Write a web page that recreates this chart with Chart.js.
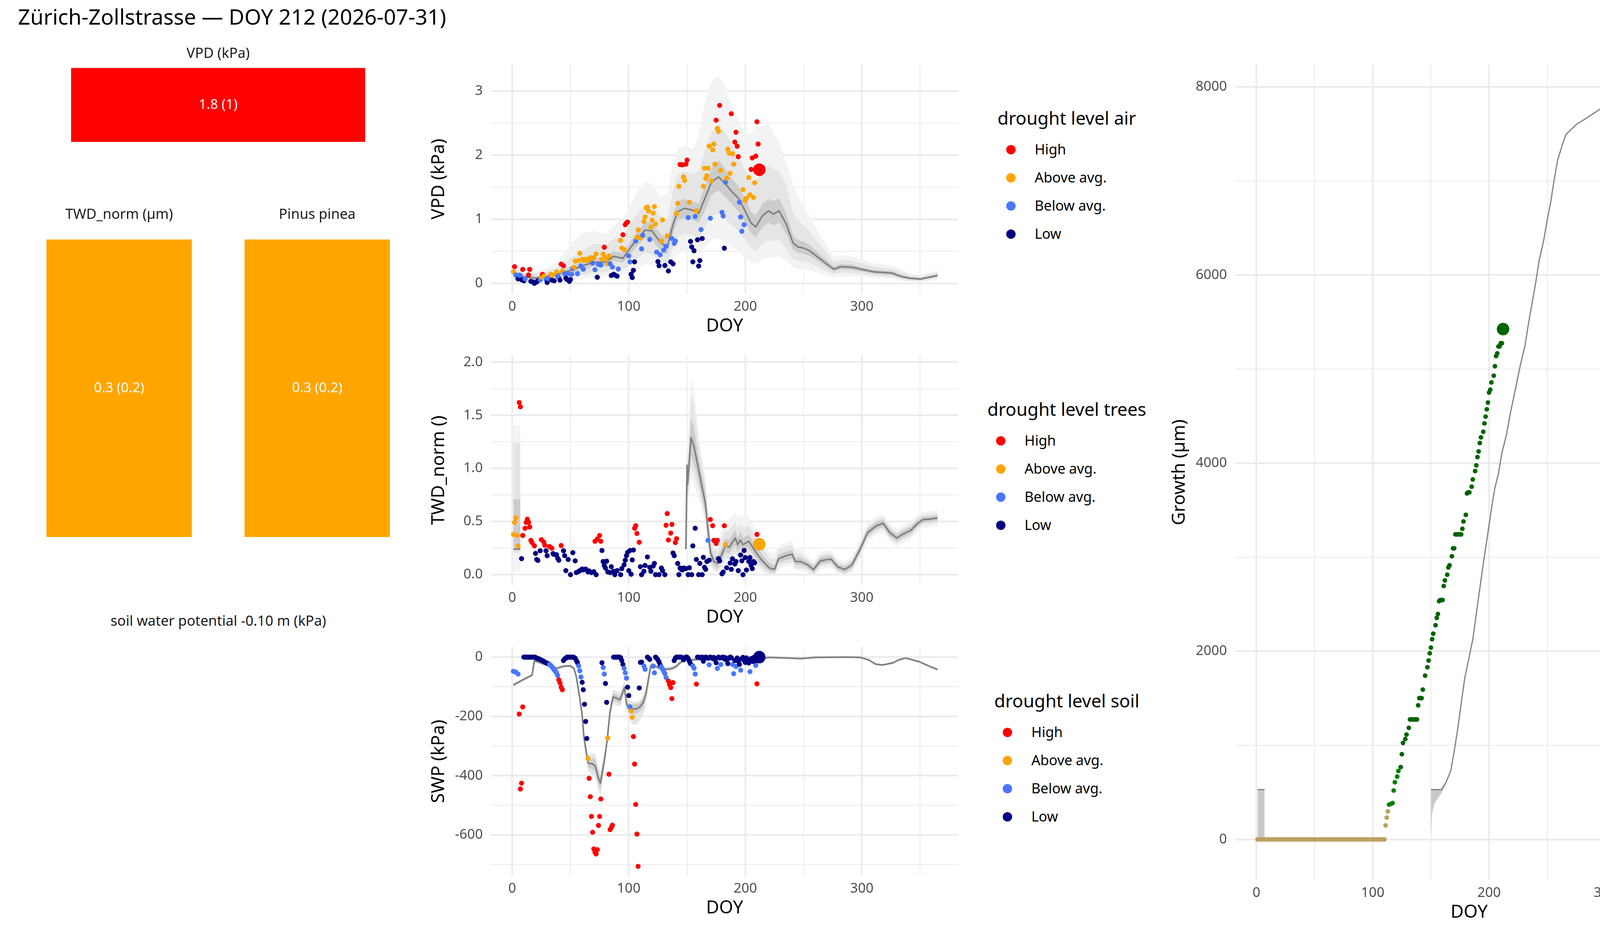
<!DOCTYPE html>
<html>
<head>
<meta charset="utf-8">
<title>Zürich-Zollstrasse</title>
<script src="https://cdn.jsdelivr.net/npm/chart.js@4.4.1/dist/chart.umd.min.js"></script>
<style>
  html, body { margin: 0; padding: 0; background: #fff; }
  body { position: relative; width: 4800px; height: 2400px; overflow: hidden; font-family: "Noto Sans", sans-serif; }
  canvas { position: absolute; }
  .txt { position: absolute; white-space: nowrap; line-height: 1; }
  .dot { position: absolute; border-radius: 50%; }
</style>
</head>
<body>
<script>
// ---------- tick labels ----------
const doyTicks = [0, 50, 100, 150, 200, 250, 300, 350];
const vpdTicks = [0, 0.5, 1, 1.5, 2, 2.5, 3];
const twdTicks = [0, 0.25, 0.5, 0.75, 1, 1.25, 1.5, 1.75, 2];
const swpTicks = [-700, -600, -500, -400, -300, -200, -100, 0];
const growthTicks = [0, 1000, 2000, 3000, 4000, 5000, 6000, 7000, 8000];

// ---------- categories ----------
const droughtLevels = ['High', 'Above avg.', 'Below avg.', 'Low'];
const droughtColors = { H: '#FF0000', A: '#FFA500', B: '#4876FF', L: '#000080' };
const growthLevels = ['High', 'Above avg.', 'Below avg.', 'Low', 'Dormant'];
const growthColors = { H: '#006400', A: '#008000', B: '#00FF00', L: '#FFFF00', D: '#BEA05F' };

// ---------- today tiles ----------
const tileNames = ['VPD (kPa)', 'TWD_norm (µm)', 'Pinus pinea'];
const tileValue = [1.8, 0.3, 0.3];
const tileRef = [1, 0.2, 0.2];
const tileLevel = ['H', 'A', 'A'];
const soilTileName = 'soil water potential -0.10 m (kPa)';

// ---------- VPD climatology ----------
const vpdStatDoy = [1,10,20,30,40,50,60,70,80,87,95,102,108,114,120,127,133,138,142,148,155,160,165,171,177,183,189,194,199,205,209,215,220,224,229,235,241,245,250,255,263,270,276,282,292,302,310,318,326,333,341,350,358,365];
const vpdMean  = [0.15,0.10,0.08,0.11,0.15,0.20,0.27,0.33,0.33,0.42,0.39,0.57,0.71,0.83,0.82,0.64,0.56,0.92,1.12,1.17,1.14,1.09,1.31,1.58,1.66,1.55,1.42,1.33,1.16,0.94,0.88,1.06,1.13,1.08,1.13,0.93,0.63,0.57,0.55,0.51,0.40,0.30,0.22,0.26,0.25,0.21,0.18,0.17,0.16,0.11,0.08,0.066,0.096,0.123];
const vpdInLo  = [0.11,0.07,0.06,0.08,0.11,0.15,0.20,0.27,0.26,0.35,0.32,0.47,0.60,0.70,0.68,0.52,0.45,0.78,0.98,1.02,0.99,0.94,1.12,1.38,1.45,1.35,1.22,1.13,0.98,0.78,0.72,0.88,0.95,0.90,0.95,0.78,0.53,0.48,0.46,0.43,0.34,0.25,0.19,0.22,0.21,0.18,0.15,0.14,0.13,0.09,0.06,0.05,0.08,0.10];
const vpdInHi  = [0.19,0.13,0.11,0.14,0.19,0.26,0.33,0.40,0.41,0.50,0.48,0.67,0.82,0.95,0.95,0.78,0.70,1.06,1.28,1.32,1.28,1.24,1.50,1.80,1.92,1.78,1.62,1.52,1.35,1.12,1.06,1.25,1.32,1.28,1.33,1.10,0.75,0.68,0.65,0.60,0.47,0.36,0.26,0.30,0.29,0.24,0.21,0.20,0.19,0.14,0.10,0.085,0.115,0.145];
const vpdMidLo = [0.06,0.04,0.03,0.05,0.07,0.10,0.13,0.17,0.17,0.23,0.22,0.30,0.40,0.48,0.45,0.35,0.30,0.55,0.72,0.78,0.75,0.70,0.85,1.05,1.10,1.00,0.90,0.82,0.70,0.55,0.50,0.62,0.68,0.65,0.68,0.55,0.38,0.35,0.34,0.32,0.25,0.19,0.14,0.17,0.16,0.14,0.12,0.11,0.10,0.07,0.04,0.035,0.06,0.08];
const vpdMidHi = [0.24,0.17,0.15,0.19,0.26,0.40,0.50,0.62,0.60,0.70,0.72,0.95,1.10,1.22,1.20,1.05,0.98,1.45,1.70,1.75,1.70,1.75,2.05,2.35,2.48,2.35,2.15,2.00,1.80,1.60,1.58,1.78,1.85,1.78,1.75,1.55,1.10,0.98,0.90,0.82,0.62,0.48,0.33,0.37,0.35,0.30,0.26,0.24,0.23,0.18,0.13,0.11,0.14,0.17];
const vpdOutLo = [0.03,0.02,0.01,0.02,0.04,0.06,0.08,0.10,0.10,0.13,0.13,0.18,0.25,0.30,0.28,0.22,0.18,0.35,0.45,0.50,0.48,0.45,0.55,0.68,0.70,0.62,0.55,0.50,0.42,0.33,0.30,0.38,0.40,0.40,0.42,0.35,0.25,0.22,0.22,0.20,0.16,0.12,0.09,0.11,0.11,0.10,0.08,0.08,0.07,0.05,0.03,0.02,0.04,0.06];
const vpdOutHi = [0.28,0.20,0.18,0.24,0.35,0.62,0.78,0.82,0.78,0.90,1.00,1.25,1.45,1.58,1.55,1.35,1.40,1.85,2.10,2.15,2.10,2.30,2.80,3.15,3.25,3.05,2.75,2.55,2.35,2.35,2.45,2.45,2.50,2.35,2.20,1.90,1.55,1.35,1.20,1.05,0.78,0.60,0.42,0.44,0.42,0.36,0.31,0.30,0.28,0.22,0.16,0.14,0.17,0.20];

// VPD this year: [doy, value, level]
const vpdObs = [[1,0.18,'A'],[2,0.26,'H'],[3,0.13,'B'],[5,0.07,'L'],[6,0.128,'B'],[7,0.12,'B'],[8,0.055,'L'],[9,0.217,'H'],[10,0.04,'L'],[11,0.07,'B'],[14,0.13,'H'],[15,0.217,'H'],[16,0.03,'L'],[18,0.02,'L'],[19,0.0,'L'],[21,0.02,'L'],[22,0.04,'L'],[24,0.055,'B'],[25,0.10,'A'],[26,0.14,'H'],[27,0.11,'A'],[29,0.06,'B'],[30,0.014,'L'],[31,0.075,'B'],[33,0.14,'A'],[34,0.05,'L'],[35,0.13,'A'],[36,0.04,'L'],[38,0.177,'A'],[39,0.11,'B'],[40,0.09,'B'],[41,0.05,'L'],[42,0.30,'H'],[43,0.19,'A'],[44,0.274,'H'],[45,0.15,'B'],[46,0.08,'L'],[47,0.06,'L'],[48,0.15,'B'],[49,0.03,'L'],[50,0.06,'L'],[51,0.14,'B'],[52,0.23,'B'],[53,0.25,'A'],[54,0.345,'A'],[56,0.15,'B'],[57,0.355,'A'],[58,0.47,'A'],[59,0.27,'B'],[60,0.375,'A'],[61,0.22,'B'],[62,0.36,'A'],[63,0.375,'A'],[65,0.355,'A'],[66,0.38,'A'],[67,0.40,'A'],[68,0.36,'A'],[69,0.315,'B'],[70,0.40,'A'],[71,0.213,'B'],[72,0.457,'A'],[73,0.095,'L'],[74,0.295,'B'],[75,0.30,'B'],[76,0.284,'B'],[77,0.375,'A'],[78,0.457,'A'],[79,0.563,'H'],[80,0.40,'A'],[81,0.386,'A'],[82,0.305,'A'],[83,0.427,'A'],[84,0.305,'B'],[85,0.122,'L'],[86,0.254,'B'],[87,0.142,'L'],[88,0.13,'L'],[90,0.112,'L'],[91,0.223,'B'],[93,0.67,'A'],[94,0.55,'A'],[95,0.758,'H'],[96,0.528,'A'],[97,0.914,'H'],[98,0.94,'H'],[99,0.955,'H'],[100,0.427,'B'],[101,0.335,'B'],[102,0.142,'L'],[103,0.09,'L'],[104,0.203,'L'],[105,0.335,'L'],[106,0.66,'B'],[107,0.72,'A'],[108,0.833,'A'],[109,0.72,'A'],[110,0.71,'A'],[111,0.538,'B'],[112,0.75,'B'],[113,0.965,'A'],[114,1.035,'A'],[115,1.18,'A'],[116,1.19,'A'],[117,1.127,'A'],[118,0.684,'B'],[119,0.879,'A'],[120,0.985,'A'],[121,1.096,'A'],[122,1.198,'A'],[123,0.924,'A'],[124,0.487,'B'],[125,0.339,'L'],[126,0.274,'L'],[127,0.446,'B'],[128,0.66,'A'],[129,0.989,'A'],[130,0.518,'B'],[131,0.278,'L'],[132,0.578,'B'],[133,0.741,'A'],[134,0.193,'L'],[136,0.335,'L'],[137,0.70,'B'],[138,0.304,'L'],[139,0.623,'B'],[140,0.66,'B'],[141,1.09,'A'],[142,1.248,'A'],[143,1.513,'A'],[144,1.854,'H'],[146,1.848,'H'],[147,1.66,'A'],[148,1.604,'A'],[149,1.858,'H'],[150,1.923,'H'],[151,1.025,'B'],[152,1.265,'A'],[153,0.654,'L'],[154,0.568,'L'],[155,0.335,'L'],[156,0.508,'L'],[157,1.042,'B'],[158,1.131,'A'],[159,0.68,'L'],[160,0.27,'L'],[161,0.355,'L'],[162,0.838,'B'],[163,0.70,'L'],[164,1.513,'A'],[165,1.797,'A'],[166,1.635,'A'],[167,1.68,'A'],[168,1.797,'A'],[169,2.143,'A'],[170,1.015,'B'],[171,1.598,'A'],[172,2.082,'A'],[173,2.173,'A'],[174,1.858,'A'],[175,2.545,'H'],[176,2.417,'A'],[177,2.37,'A'],[178,2.776,'H'],[179,1.761,'A'],[180,1.107,'B'],[181,1.05,'B'],[182,0.548,'L'],[183,1.578,'B'],[184,1.639,'A'],[185,2.092,'A'],[186,2.031,'A'],[187,1.716,'A'],[188,2.646,'H'],[189,2.021,'A'],[190,1.858,'A'],[191,2.203,'H'],[192,2.356,'H'],[193,2.138,'H'],[194,1.976,'H'],[195,1.265,'B'],[196,1.035,'B'],[197,0.812,'B'],[198,1.462,'A'],[199,0.914,'B'],[200,1.29,'A'],[201,1.33,'A'],[203,1.651,'A'],[204,1.381,'A'],[205,1.777,'H'],[206,1.956,'H'],[207,1.34,'A'],[208,1.57,'A'],[209,1.984,'H'],[210,2.52,'H'],[211,2.173,'H'],[212,1.773,'H']];

// ---------- TWD climatology ----------
const twdStatDoy = [1,7,8,149,150,150.5,153.4,155.8,158.5,160.3,162.9,165.7,167.9,170.1,172.9,176.3,179.6,182.9,186.3,191.3,193.5,195.7,198,202.9,206.3,210.7,215.2,220.7,225.2,228.5,235.2,240.2,243,247.4,252.6,258.6,264.5,273.5,279.4,285.4,291.4,298.8,304.8,312.2,318.2,324.1,330.1,334.5,342,348,352.4,359.9,365];
const twdMean  = [0.24,0.24,null,0.24,1.03,0.85,1.29,1.215,1.068,0.968,0.823,0.676,0.43,0.21,0.124,0.106,0.185,0.271,0.259,0.345,0.283,0.326,0.283,0.314,0.259,0.185,0.124,0.063,0.05,0.149,0.179,0.192,0.124,0.124,0.098,0.049,0.131,0.147,0.073,0.049,0.09,0.246,0.394,0.459,0.484,0.394,0.345,0.377,0.418,0.484,0.517,0.525,0.534];
const twdInLo  = [0.23,0.23,null,0.22,0.9,0.75,1.12,1.05,0.95,0.86,0.72,0.58,0.35,0.15,0.08,0.06,0.13,0.21,0.2,0.28,0.22,0.26,0.22,0.25,0.2,0.13,0.08,0.03,0.02,0.11,0.14,0.15,0.09,0.09,0.07,0.02,0.1,0.115,0.045,0.02,0.06,0.21,0.36,0.425,0.45,0.36,0.31,0.345,0.385,0.455,0.49,0.5,0.51];
const twdInHi  = [0.71,0.71,null,0.26,1.1,0.95,1.46,1.4,1.2,1.08,0.93,0.78,0.52,0.28,0.18,0.16,0.25,0.34,0.33,0.42,0.35,0.4,0.35,0.38,0.32,0.25,0.18,0.11,0.09,0.19,0.22,0.23,0.16,0.16,0.13,0.08,0.165,0.18,0.1,0.08,0.12,0.28,0.43,0.495,0.52,0.43,0.38,0.41,0.45,0.515,0.545,0.55,0.56];
const twdMidLo = [0.204,0.204,null,0.2,0.8,0.68,1.0,0.95,0.85,0.78,0.66,0.52,0.3,0.11,0.05,0.03,0.08,0.15,0.14,0.21,0.16,0.2,0.16,0.19,0.15,0.09,0.05,0.01,0.0,0.08,0.11,0.12,0.06,0.06,0.05,0.0,0.08,0.095,0.025,0.0,0.04,0.19,0.34,0.405,0.43,0.34,0.29,0.325,0.365,0.435,0.47,0.48,0.49];
const twdMidHi = [1.24,1.24,null,0.28,1.2,1.05,1.7,1.6,1.35,1.2,1.03,0.86,0.6,0.34,0.24,0.22,0.32,0.42,0.42,0.5,0.44,0.48,0.44,0.46,0.4,0.32,0.24,0.16,0.14,0.24,0.27,0.28,0.2,0.2,0.15,0.1,0.185,0.2,0.12,0.1,0.14,0.3,0.45,0.515,0.54,0.45,0.4,0.43,0.47,0.535,0.565,0.57,0.58];
const twdOutLo = [0.026,0.026,null,0.18,0.7,0.6,0.9,0.85,0.75,0.7,0.6,0.46,0.26,0.08,0.03,0.01,0.04,0.1,0.09,0.15,0.11,0.14,0.11,0.13,0.1,0.05,0.02,0.0,-0.01,0.05,0.08,0.09,0.04,0.04,0.02,-0.02,0.05,0.065,0.0,-0.02,0.01,0.16,0.31,0.375,0.4,0.31,0.26,0.295,0.335,0.405,0.44,0.45,0.46];
const twdOutHi = [1.405,1.405,null,0.3,1.3,1.2,1.85,1.75,1.5,1.32,1.12,0.92,0.66,0.4,0.3,0.3,0.42,0.5,0.52,0.58,0.52,0.56,0.54,0.54,0.48,0.4,0.3,0.22,0.2,0.28,0.3,0.32,0.24,0.24,0.18,0.13,0.215,0.23,0.15,0.13,0.17,0.33,0.48,0.545,0.57,0.48,0.43,0.46,0.5,0.565,0.595,0.6,0.61];

const twdObs = [[1,0.379,'A'],[2,0.492,'A'],[3,0.535,'A'],[4,0.369,'A'],[5,0.269,'A'],[6,1.62,'H'],[7,1.58,'H'],[8,0.151,'L'],[9,0.369,'H'],[11,0.437,'H'],[12,0.492,'H'],[13,0.522,'H'],[14,0.492,'H'],[15,0.449,'H'],[16,0.323,'H'],[17,0.302,'H'],[19,0.271,'H'],[20,0.20,'L'],[21,0.143,'L'],[22,0.134,'L'],[24,0.225,'L'],[25,0.33,'H'],[27,0.308,'H'],[28,0.277,'H'],[29,0.225,'L'],[30,0.179,'L'],[32,0.265,'H'],[34,0.249,'H'],[35,0.198,'L'],[36,0.19,'L'],[38,0.188,'L'],[39,0.155,'L'],[40,0.136,'L'],[42,0.274,'H'],[44,0.225,'L'],[45,0.179,'L'],[46,0.038,'L'],[48,0.143,'L'],[50,0.0,'L'],[52,0.207,'L'],[54,0.13,'L'],[55,0.02,'L'],[57,0.03,'L'],[58,0.038,'L'],[60,0.053,'L'],[61,0.045,'L'],[63,0.053,'L'],[65,0.026,'L'],[66,0.035,'L'],[68,0.02,'L'],[70,0.028,'L'],[71,0.314,'H'],[72,0.0,'L'],[73,0.335,'H'],[75,0.369,'H'],[76,0.314,'H'],[77,0.228,'L'],[78,0.124,'L'],[79,0.087,'L'],[80,0.063,'L'],[81,0.127,'L'],[82,0.026,'L'],[84,0.02,'L'],[85,0.075,'L'],[87,0.032,'L'],[88,0.0,'L'],[90,0.038,'L'],[93,0.0,'L'],[94,0.057,'L'],[96,0.093,'L'],[97,0.136,'L'],[98,0.179,'L'],[99,0.21,'L'],[100,0.038,'L'],[101,0.228,'L'],[102,0.004,'L'],[103,0.139,'L'],[104,0.232,'L'],[105,0.437,'H'],[106,0.461,'H'],[107,0.388,'H'],[109,0.305,'H'],[110,0.075,'L'],[111,0.0,'L'],[113,0.032,'L'],[114,0.087,'L'],[116,0.167,'L'],[118,0.069,'L'],[119,0.032,'L'],[121,0.081,'L'],[122,0.106,'L'],[123,0.0,'L'],[126,0.0,'L'],[128,0.063,'L'],[129,0.038,'L'],[131,0.0,'L'],[132,0.465,'H'],[133,0.575,'H'],[134,0.326,'H'],[136,0.391,'H'],[137,0.473,'H'],[138,0.204,'L'],[139,0.179,'L'],[140,0.302,'H'],[141,0.339,'H'],[142,0.106,'L'],[143,0.0,'L'],[144,0.063,'L'],[145,0.05,'L'],[146,0.044,'L'],[147,0.063,'L'],[149,0.057,'L'],[151,0.0,'L'],[152,0.065,'L'],[154,0.0,'L'],[155,0.271,'L'],[157,0.437,'L'],[158,0.143,'L'],[160,0.0,'L'],[161,0.106,'L'],[163,0.0,'L'],[164,0.163,'L'],[165,0.069,'L'],[166,0.05,'L'],[167,0.124,'L'],[168,0.323,'B'],[169,0.136,'L'],[170,0.519,'H'],[172,0.461,'H'],[173,0.323,'H'],[175,0.293,'H'],[176,0.323,'H'],[177,0.151,'L'],[178,0.13,'L'],[180,0.008,'L'],[181,0.024,'L'],[182,0.461,'H'],[183,0.283,'A'],[184,0.065,'L'],[187,0.109,'L'],[188,0.05,'L'],[189,0.149,'L'],[191,0.1,'L'],[192,0.124,'L'],[194,0.038,'L'],[196,0.185,'L'],[197,0.13,'L'],[198,0.0,'L'],[199,0.228,'L'],[200,0.161,'L'],[201,0.044,'L'],[203,0.124,'L'],[204,0.161,'L'],[205,0.087,'L'],[206,0.057,'L'],[207,0.124,'L'],[208,0.112,'L'],[210,0.379,'H'],[212,0.286,'A']];

// ---------- SWP climatology ----------
const swpStatDoy = [1,9,17,19,25,32,38,43,46,50,53,55,58,60,61.5,63.5,65.2,68.7,71.4,73.6,75.7,77.3,79.3,81.3,83.9,86.5,89.8,92.5,94.4,96.4,98.1,99.7,102.3,106.3,108.9,112.2,114.8,116.8,118.8,120.1,122.7,126,130,132.6,135.3,137.9,140.5,143.2,145.8,147.8,151,157.6,168,198,212,221,248,260,287,299,306,312,318,327,331.6,337.5,342,349.4,358.4,365];
const swpMean  = [-94,-77,-61,-12,-20,-30,-38,-32,-30,-30,-38,-66,-139,-196,-269,-321,-358,-360,-368,-405,-425,-389,-342,-285,-186,-134,-139,-144,-123,-103,-160,-168,-175,-175,-170,-155,-123,-77,-30,-27,-30,-37,-43,-40,-40,-37,-32,-22,-14,-10,-10,-8,-6,-6,-4,-1,-5,-1,0,-1,-9.5,-24,-26.5,-19,-9.5,-3,-7.6,-15.8,-31.6,-42];
const swpInLo  = [-97,-80,-64,-15,-23,-33,-41,-35,-33,-33,-41,-70,-145,-204,-279,-333,-372,-378,-388,-425,-445,-405,-355,-295,-195,-146,-151,-156,-135,-115,-172,-181,-190,-192,-185,-171,-137,-89,-38,-32,-34,-41,-47,-44,-44,-41,-36,-26,-17,-13,-13,-11,-9,-9,-7,-3,-7,-3,-2,-3,-11.5,-26,-28.5,-21,-11.5,-5,-9.6,-17.8,-33.6,-44];
const swpInHi  = [-91,-74,-58,-9,-17,-27,-35,-29,-27,-27,-35,-62,-133,-188,-259,-309,-344,-342,-348,-385,-405,-373,-329,-275,-177,-122,-127,-132,-111,-91,-148,-155,-160,-158,-155,-139,-109,-65,-22,-22,-26,-33,-39,-36,-36,-33,-28,-18,-11,-7,-7,-5,-3,-3,-1,1,-3,1,2,1,-7.5,-22,-24.5,-17,-7.5,-1,-5.6,-13.8,-29.6,-40];
const swpOutLo = [-100,-83,-67,-18,-26,-36,-44,-38,-36,-36,-44,-74,-151,-212,-289,-345,-386,-396,-408,-445,-470,-425,-370,-305,-205,-158,-163,-168,-147,-127,-184,-195,-225,-228,-215,-195,-160,-105,-46,-37,-38,-45,-51,-48,-48,-45,-40,-30,-20,-16,-16,-14,-12,-12,-10,-5,-9,-5,-4,-5,-13.5,-28,-30.5,-23,-13.5,-7,-11.6,-19.8,-35.6,-46];
const swpOutHi = [-88,-71,-55,-6,-14,-24,-32,-26,-24,-24,-32,-58,-127,-180,-249,-297,-330,-324,-328,-365,-385,-355,-316,-265,-167,-110,-115,-120,-99,-79,-136,-145,-150,-150,-148,-132,-102,-58,-16,-17,-22,-29,-35,-32,-32,-29,-24,-14,-8,-4,-4,-2,0,0,2,3,-1,3,4,3,-5.5,-20,-22.5,-15,-5.5,1,-3.6,-11.8,-27.6,-38];

const swpObs = [[1,-48,'B'],[3,-50.5,'B'],[5,-57,'B'],[6,-192,'H'],[7,-445,'H'],[8,-425.5,'H'],[9,-168,'H'],[10,0,'L'],[11,0,'L'],[12,0,'L'],[13,0,'L'],[14,0,'L'],[15,0,'L'],[16,0,'L'],[17,0,'L'],[18,0,'L'],[19,0,'L'],[20,-1,'L'],[21,-3.6,'L'],[22,-5,'L'],[23,-6,'L'],[24,-7.8,'L'],[25,-10,'L'],[26,-12,'L'],[27,-14,'L'],[28,-17,'L'],[29,-19,'L'],[30,-21,'L'],[31,-22,'L'],[32,-24.5,'B'],[33,-28,'B'],[34,-32,'B'],[35,-37,'B'],[36,-43,'B'],[37,-48,'B'],[38,-53,'B'],[39,-62,'B'],[40,-76.6,'H'],[41,-87,'H'],[42,-101.6,'H'],[43,-110,'H'],[44,-11.5,'L'],[45,-6,'L'],[46,-3.6,'L'],[47,0,'L'],[48,0,'L'],[49,0,'L'],[50,0,'L'],[51,0,'L'],[52,0,'L'],[53,-1,'L'],[54,-3.6,'L'],[55,-11.5,'L'],[56,-19,'L'],[57,-29.7,'B'],[58,-46.4,'B'],[59,-67,'B'],[60,-85,'L'],[61,-110,'L'],[62,-159,'L'],[63,-217,'L'],[64,-274.5,'L'],[65,-342,'A'],[66,-409,'H'],[67,-471,'H'],[68,-537.5,'H'],[69,-591,'H'],[70,-647,'H'],[71,-658,'H'],[72,-664,'H'],[73,-649.5,'H'],[74,-568,'H'],[75,-537.5,'H'],[76,-478.6,'H'],[77,-19,'L'],[78,-35,'B'],[79,-57,'B'],[80,-89,'L'],[81,-152.6,'L'],[82,-273,'A'],[83,-395,'H'],[84,-582,'H'],[85,-575.5,'H'],[86,-567,'H'],[87,0,'L'],[88,0,'L'],[89,0,'L'],[90,0,'L'],[91,0,'L'],[92,0,'L'],[93,-2,'L'],[94,-11.5,'L'],[95,-24.5,'L'],[96,-37.5,'B'],[97,-53,'B'],[98,-71,'B'],[99,-101.6,'L'],[100,-129.7,'L'],[101,-167.7,'B'],[102,-182,'A'],[103,-203,'A'],[104,-268,'H'],[105,-361,'H'],[106,-497,'H'],[107,-597,'H'],[108,-706,'H'],[109,-104,'L'],[110,-17.7,'L'],[111,-16.7,'L'],[113,-29.7,'B'],[114,-41,'B'],[116,0,'L'],[117,-3,'L'],[118,-7.8,'L'],[121,-30.7,'B'],[122,-53,'B'],[123,0,'L'],[124,-4,'L'],[125,-8.9,'L'],[126,-16.7,'L'],[127,-27,'L'],[128,-33,'B'],[129,-40,'B'],[130,-48,'B'],[131,-55.7,'B'],[132,-68.8,'B'],[134,-80.7,'H'],[135,-92,'H'],[136,-102.6,'H'],[137,-140,'H'],[138,-86,'H'],[139,-11.5,'L'],[140,-3,'L'],[141,0,'L'],[142,0,'L'],[143,0,'L'],[144,0,'L'],[145,0,'L'],[146,-2,'L'],[147,-8.9,'L'],[148,-4,'L'],[149,0,'L'],[150,0,'L'],[151,-5,'L'],[152,-14,'L'],[153,-22,'L'],[155,-29.7,'B'],[156,-37.5,'B'],[157,-57,'B'],[158,-91,'H'],[159,0,'L'],[160,0,'L'],[161,-2,'L'],[162,-1,'L'],[163,0,'L'],[164,-14,'L'],[165,-3,'L'],[166,0,'L'],[167,-1,'L'],[168,-4,'L'],[169,-26,'B'],[170,0,'L'],[171,-2,'L'],[172,-5,'L'],[173,-1,'L'],[174,-8,'L'],[175,-19,'L'],[176,-38,'B'],[177,0,'L'],[178,-3,'L'],[179,-25,'B'],[180,-1,'L'],[181,0,'L'],[182,-6,'L'],[183,-2,'L'],[184,-10,'L'],[185,-22,'L'],[186,-4,'L'],[187,0,'L'],[188,-2,'L'],[189,-25,'B'],[190,-56,'B'],[191,-11.5,'L'],[192,-31.6,'B'],[193,-3,'L'],[194,-14,'L'],[195,-24.5,'L'],[196,-44,'B'],[197,-6,'L'],[198,-1,'L'],[199,-12,'L'],[200,-18,'L'],[201,-3,'L'],[202,-9,'L'],[203,-20,'L'],[204,-49,'B'],[205,-5,'L'],[206,-14,'L'],[207,-2,'L'],[208,-17,'L'],[209,-28,'B'],[210,-90,'H'],[211,-10,'L'],[212,0,'L']];

// ---------- growth climatology ----------
const growthStatDoy = [1,7,8,150,151,153,156,159,163,167,170,173,176,179,183,186,189,192,195,199,202,205,208,211,215,218,221,224,227,231,234,237,240,243,247,250,253,256,259,263,266,271,275,282,288,295,301,307,335,339,347,365];
const growthMean = [530,530,null,530,530,530,530,530,608,727,936,1174,1443,1711,1949,2128,2396,2665,2933,3261,3511,3738,3887,4107,4304,4513,4691,4870,5049,5258,5496,5705,5913,6152,6372,6587,6778,7016,7225,7386,7493,7553,7600,7654,7702,7761,7821,7833,7833,7851,7863,7863];
const growthBandDoy = [1,7,8,150,151,153,156,159,163,167];
const growthBandLo  = [0,0,null,0,280,380,440,490,590,720];
const growthBandHi  = [530,530,null,530,530,530,530,535,620,735];

const growthObs = [[1,0,'D'],[3,0,'D'],[5,0,'D'],[7,0,'D'],[9,0,'D'],[11,0,'D'],[13,0,'D'],[15,0,'D'],[17,0,'D'],[19,0,'D'],[21,0,'D'],[23,0,'D'],[25,0,'D'],[27,0,'D'],[29,0,'D'],[31,0,'D'],[33,0,'D'],[35,0,'D'],[37,0,'D'],[39,0,'D'],[41,0,'D'],[43,0,'D'],[45,0,'D'],[47,0,'D'],[49,0,'D'],[51,0,'D'],[53,0,'D'],[55,0,'D'],[57,0,'D'],[59,0,'D'],[61,0,'D'],[63,0,'D'],[65,0,'D'],[67,0,'D'],[69,0,'D'],[71,0,'D'],[73,0,'D'],[75,0,'D'],[77,0,'D'],[79,0,'D'],[81,0,'D'],[83,0,'D'],[85,0,'D'],[87,0,'D'],[89,0,'D'],[91,0,'D'],[93,0,'D'],[95,0,'D'],[97,0,'D'],[99,0,'D'],[101,0,'D'],[103,0,'D'],[105,0,'D'],[107,0,'D'],[109,0,'D'],[110,0,'D'],[111,149,'D'],[112,232,'D'],[113,298,'D'],[114,370,'A'],[116,380,'A'],[117,387,'A'],[118,519,'A'],[119,608,'A'],[121,668,'A'],[122,727,'A'],[124,769,'H'],[125,906,'H'],[126,1025,'H'],[128,1067,'H'],[129,1115,'H'],[131,1186,'H'],[132,1276,'H'],[133,1276,'H'],[134,1276,'H'],[135,1276,'H'],[136,1276,'H'],[137,1276,'H'],[138,1276,'H'],[139,1425,'H'],[140,1502,'H'],[141,1502,'H'],[142,1502,'H'],[143,1592,'H'],[145,1741,'H'],[147,1830,'H'],[148,1902,'H'],[149,1979,'H'],[150,2039,'H'],[151,2128,'H'],[152,2188,'H'],[154,2277,'H'],[155,2355,'H'],[156,2396,'H'],[157,2533,'H'],[158,2545,'H'],[159,2545,'H'],[160,2545,'H'],[161,2694,'H'],[162,2754,'H'],[164,2814,'H'],[165,2891,'H'],[166,2915,'H'],[168,3010,'H'],[169,3094,'H'],[170,3094,'H'],[171,3243,'H'],[172,3243,'H'],[173,3243,'H'],[174,3243,'H'],[175,3243,'H'],[176,3243,'H'],[177,3302,'H'],[178,3380,'H'],[180,3451,'H'],[181,3678,'H'],[182,3690,'H'],[183,3690,'H'],[185,3750,'H'],[186,3827,'H'],[188,3916,'H'],[189,3976,'H'],[190,4065,'H'],[191,4125,'H'],[192,4214,'H'],[193,4274,'H'],[195,4334,'H'],[196,4423,'H'],[197,4495,'H'],[198,4572,'H'],[199,4644,'H'],[200,4751,'H'],[201,4781,'H'],[202,4858,'H'],[204,4930,'H'],[205,5031,'H'],[206,5138,'H'],[207,5168,'H'],[208,5240,'H'],[209,5240,'H'],[210,5275,'H'],[211,5275,'H'],[212,5425,'H']];

// ---------- helpers ----------
Chart.defaults.font.family = '"Noto Sans", sans-serif';
Chart.defaults.color = '#4D4D4D';

const INK = '#1A1A1A';

function addText(str, x, yc, size, color, center) {
  const d = document.createElement('div');
  d.className = 'txt';
  d.textContent = str;
  d.style.fontSize = size + 'px';
  d.style.color = color;
  d.style.top = (yc - 0.531 * size) + 'px';
  d.style.left = x + 'px';
  if (center) d.style.transform = 'translateX(-50%)';
  document.body.appendChild(d);
  return d;
}

function canvasAt(x, y, w, h) {
  const c = document.createElement('canvas');
  c.width = w; c.height = h;
  c.style.left = x + 'px'; c.style.top = y + 'px';
  c.style.width = w + 'px'; c.style.height = h + 'px';
  document.body.appendChild(c);
  return c;
}

const measureCtx = document.createElement('canvas').getContext('2d');
function textWidth(str, size) {
  measureCtx.font = size + 'px "Noto Sans"';
  return measureCtx.measureText(str).width;
}

// legend box centred on cx, like ggplot does
function legend(cx, yTitle, title, labels, colors) {
  const itemsW = 95 + Math.max(...labels.map(l => textWidth(l, 36)));
  const w = Math.max(textWidth(title, 46), itemsW);
  const left = cx - w / 2;
  addText(title, left, yTitle, 46, '#000', false);
  labels.forEach((lab, i) => {
    const y = yTitle + 81 + i * 72;
    const dot = document.createElement('div');
    dot.className = 'dot';
    dot.style.left = (left + 22) + 'px';
    dot.style.top = (y - 12) + 'px';
    dot.style.width = '24px'; dot.style.height = '24px';
    dot.style.background = colors[i];
    document.body.appendChild(dot);
    addText(lab, left + 95, y, 36, '#000', false);
  });
}

function xy(doys, vals) { return doys.map((d, i) => ({ x: d, y: vals[i] })); }

function band(doys, lo, hi, color, order) {
  return [
    { type: 'line', data: xy(doys, lo), borderColor: 'transparent', borderWidth: 0, pointRadius: 0, fill: false, order },
    { type: 'line', data: xy(doys, hi), borderColor: 'transparent', borderWidth: 0, pointRadius: 0, fill: '-1', backgroundColor: color, order }
  ];
}

function meanLine(doys, vals, width) {
  return { type: 'line', data: xy(doys, vals), borderColor: '#7F7F7F', borderWidth: width, pointRadius: 0,
           fill: false, order: 2, borderJoinStyle: 'round' };
}

function obsPoints(obs, colors, r, rBig) {
  const rest = obs.slice(0, -1);
  const last = obs[obs.length - 1];
  return [
    { type: 'scatter', data: rest.map(o => ({ x: o[0], y: o[1] })), pointRadius: r,
      pointBackgroundColor: rest.map(o => colors[o[2]]), pointBorderWidth: 0, order: 1 },
    { type: 'scatter', data: [{ x: last[0], y: last[1] }], pointRadius: rBig,
      pointBackgroundColor: colors[last[2]], pointBorderWidth: 0, order: 0 }
  ];
}

const X_AXIS_H = 110, PAD_TOP = 50, PAD_RIGHT = 10;

function panel(p) {
  const [aL, aT, aR, aB] = p.area;
  const left = aL - p.yW, top = aT - PAD_TOP;
  const cv = canvasAt(left, top, aR + PAD_RIGHT - left, aB + X_AXIS_H - top);
  return new Chart(cv, {
    type: 'scatter',
    data: { datasets: p.datasets },
    options: {
      responsive: false, animation: false, events: [], devicePixelRatio: 1,
      layout: { padding: { top: PAD_TOP, right: PAD_RIGHT, left: 0, bottom: 0 } },
      plugins: { legend: { display: false }, tooltip: { enabled: false } },
      scales: {
        x: {
          type: 'linear', min: p.xRange[0], max: p.xRange[1],
          afterBuildTicks: s => { s.ticks = doyTicks.map(v => ({ value: v })); },
          afterFit: s => { s.height = X_AXIS_H; },
          ticks: { autoSkip: false, maxRotation: 0, padding: 12, font: { size: 35 }, color: '#4D4D4D',
                   callback: v => (v % 100 === 0 ? String(v) : '') },
          grid: { color: '#EBEBEB', drawTicks: false, lineWidth: c => (c.tick && c.tick.value % 100 === 0 ? 4.4 : 2.2) },
          border: { display: false },
          title: { display: true, text: 'DOY', color: '#000', font: { size: 46 }, padding: { top: 0, bottom: 0 } }
        },
        y: {
          type: 'linear', min: p.yRange[0], max: p.yRange[1],
          afterBuildTicks: s => { s.ticks = p.yTicks.map(v => ({ value: v })); },
          afterFit: s => { s.width = p.yW; },
          ticks: { autoSkip: false, padding: 21, font: { size: 35 }, color: '#4D4D4D',
                   callback: v => (p.major(v) ? p.fmt(v) : '') },
          grid: { color: '#EBEBEB', drawTicks: false, lineWidth: c => (c.tick && p.major(c.tick.value) ? 4.4 : 2.2) },
          border: { display: false },
          title: { display: true, text: p.yTitle, color: '#000', font: { size: 46 }, padding: { top: 0, bottom: 0 } }
        }
      }
    }
  });
}

// white value label in the middle of a tile
const tileLabel = {
  id: 'tileLabel',
  afterDatasetsDraw(chart, args, opts) {
    const a = chart.chartArea, ctx = chart.ctx;
    ctx.save();
    ctx.fillStyle = '#FFFFFF';
    ctx.font = '35px "Noto Sans"';
    ctx.textAlign = 'center';
    ctx.textBaseline = 'middle';
    ctx.fillText(opts.text, (a.left + a.right) / 2, (a.top + a.bottom) / 2);
    ctx.restore();
  }
};

function tile(i, x1, x2, titleY, rectTop, rectBottom) {
  const lh = 36 * 1.2;
  const top = titleY - lh / 2;
  const cv = canvasAt(x1, top, x2 - x1, rectBottom - top);
  new Chart(cv, {
    type: 'bar',
    data: { labels: [tileNames[i]], datasets: [{ data: [1], backgroundColor: droughtColors[tileLevel[i]], borderWidth: 0,
                                                 barPercentage: 1, categoryPercentage: 1 }] },
    options: {
      responsive: false, animation: false, events: [], devicePixelRatio: 1,
      layout: { padding: 0 },
      scales: { x: { display: false }, y: { display: false, min: 0, max: 1 } },
      plugins: {
        legend: { display: false }, tooltip: { enabled: false },
        title: { display: true, text: tileNames[i], color: INK, font: { size: 36, weight: 'normal' },
                 padding: { top: 0, bottom: rectTop - top - lh } },
        tileLabel: { text: tileValue[i] + ' (' + tileRef[i] + ')' }
      }
    },
    plugins: [tileLabel]
  });
}

// ---------- page ----------
addText('Zürich-Zollstrasse — DOY 212 (2026-07-31)', 46, 43, 55, '#000', false);

tile(0, 182, 935, 138, 174, 363);
tile(1, 119, 491, 550, 613, 1374);
tile(2, 626, 998, 550, 613, 1374);
addText(soilTileName, 559, 1589, 36, INK, true);

const dColors = droughtLevels.map((l, i) => droughtColors['HABL'[i]]);
const gColors = growthLevels.map((l, i) => growthColors['HABLD'[i]]);

panel({
  area: [1257, 164, 2459, 752], yW: 161, xRange: [-18.2, 382.7], yRange: [-0.165, 3.42],
  yTicks: vpdTicks, major: v => Number.isInteger(v), fmt: v => String(v), yTitle: 'VPD (kPa)',
  datasets: [
    ...band(vpdStatDoy, vpdOutLo, vpdOutHi, '#F3F3F3', 5),
    ...band(vpdStatDoy, vpdMidLo, vpdMidHi, '#E5E5E5', 4),
    ...band(vpdStatDoy, vpdInLo, vpdInHi, '#CCCCCC', 3),
    meanLine(vpdStatDoy, vpdMean, 4),
    ...obsPoints(vpdObs, droughtColors, 6.5, 16)
  ]
});
legend(2731, 302, 'drought level air', droughtLevels, dColors);

panel({
  area: [1257, 909, 2459, 1497], yW: 161, xRange: [-18.2, 382.7], yRange: [-0.098, 2.065],
  yTicks: twdTicks, major: v => Math.abs(v * 2 - Math.round(v * 2)) < 1e-9, fmt: v => v.toFixed(1), yTitle: 'TWD_norm ()',
  datasets: [
    ...band(twdStatDoy, twdOutLo, twdOutHi, '#F3F3F3', 5),
    ...band(twdStatDoy, twdMidLo, twdMidHi, '#E5E5E5', 4),
    ...band(twdStatDoy, twdInLo, twdInHi, '#CCCCCC', 3),
    meanLine(twdStatDoy, twdMean, 4),
    ...obsPoints(twdObs, droughtColors, 6.5, 16)
  ]
});
legend(2731, 1047, 'drought level trees', droughtLevels, dColors);

panel({
  area: [1257, 1655, 2459, 2241], yW: 161, xRange: [-18.2, 382.7], yRange: [-738, 34.7],
  yTicks: swpTicks, major: v => v % 200 === 0, fmt: v => String(v), yTitle: 'SWP (kPa)',
  datasets: [
    ...band(swpStatDoy, swpOutLo, swpOutHi, '#E5E5E5', 4),
    ...band(swpStatDoy, swpInLo, swpInHi, '#CCCCCC', 3),
    meanLine(swpStatDoy, swpMean, 4),
    ...obsPoints(swpObs, droughtColors, 6.5, 16)
  ]
});
legend(2731, 1793, 'drought level soil', droughtLevels, dColors);

panel({
  area: [3162, 165, 4366, 2252], yW: 170, xRange: [-18.3, 384], yRange: [-433, 8238],
  yTicks: growthTicks, major: v => v % 2000 === 0, fmt: v => String(v), yTitle: 'Growth (µm)',
  datasets: [
    ...band(growthBandDoy, growthBandLo, growthBandHi, '#C8C8C8', 3),
    meanLine(growthStatDoy, growthMean, 3),
    ...obsPoints(growthObs, growthColors, 6, 16)
  ]
});
legend(4583, 1012, 'growth status', growthLevels, gColors);
</script>
</body>
</html>
